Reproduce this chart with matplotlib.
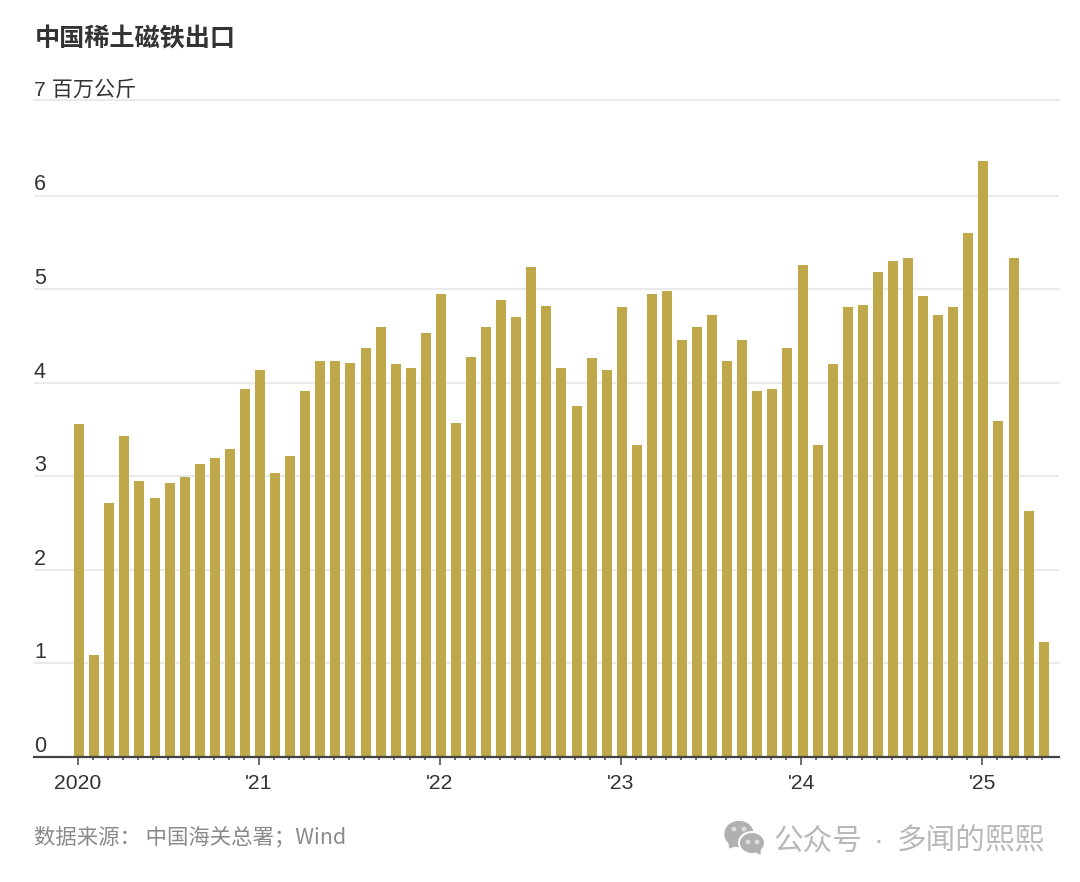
import numpy as np
import matplotlib
matplotlib.use('Agg')
import matplotlib.pyplot as plt
from matplotlib.patches import Ellipse, Polygon
from matplotlib.transforms import blended_transform_factory

##### data (million kg, monthly, Jan 2020 - May 2025)
values_2020 = [3.56, 1.09, 2.72, 3.43, 2.95, 2.77, 2.93, 2.99, 3.13, 3.20, 3.29, 3.93]
values_2021 = [4.14, 3.04, 3.22, 3.91, 4.23, 4.23, 4.21, 4.37, 4.60, 4.20, 4.16, 4.53]
values_2022 = [4.95, 3.57, 4.28, 4.60, 4.89, 4.70, 5.24, 4.82, 4.16, 3.75, 4.27, 4.14]
values_2023 = [4.81, 3.33, 4.95, 4.98, 4.46, 4.60, 4.73, 4.23, 4.46, 3.91, 3.93, 4.37]
values_2024 = [5.26, 3.33, 4.20, 4.81, 4.83, 5.18, 5.30, 5.33, 4.93, 4.73, 4.81, 5.60]
values_2025 = [6.37, 3.59, 5.33, 2.63, 1.23]

year_labels = ['2020', "'21", "'22", "'23", "'24", "'25"]
y_ticks = [0, 1, 2, 3, 4, 5, 6]

title = '中国稀土磁铁出口'
top_label = '7 百万公斤'
source = '数据来源： 中国海关总署；Wind'
watermark_left = '公众号'
watermark_dot = '·'
watermark_right = '多闻的熙熙'

BAR = '#bfa84a'
DARK = '#333333'
GRID = '#e8e8e8'
W, H = 1080, 882
CJK = ['Noto Sans CJK SC', 'Liberation Sans']
LATIN = ['Liberation Sans', 'Noto Sans CJK SC']

values = values_2020 + values_2021 + values_2022 + values_2023 + values_2024 + values_2025
x = np.arange(len(values))

fig = plt.figure(figsize=(W / 100, H / 100), dpi=100)

# axes box in pixels: x 34-1059, y 100-757
left, right, top, bottom = 34, 1059, 100, 757
ax = fig.add_axes([left / W, 1 - bottom / H, (right - left) / W, (bottom - top) / H])
step = 15.07
unit = 93.55
ax.set_xlim((left - 78) / step, (right - 78) / step)
ax.set_ylim(0, (bottom - top) / unit)

# bars sit a touch right of the ticks in the original
ax.bar(x + 0.08, values, width=10 / step, color=BAR, zorder=3)

for v in range(1, 7):
    ax.axhline(v, color=GRID, lw=1.3, zorder=1)

# top spine doubles as the "7" gridline
ax.spines['top'].set_color(GRID)
ax.spines['top'].set_linewidth(1.3)
for s in ['left', 'right']:
    ax.spines[s].set_visible(False)
ax.spines['bottom'].set_color('#444444')
ax.spines['bottom'].set_linewidth(1.6)
ax.spines['bottom'].set_zorder(4)

ax.set_xticks(x[::12])
ax.set_xticklabels(year_labels, family=LATIN, fontsize=15.2, color=DARK)
ax.set_xticks(x, minor=True)
ax.tick_params(axis='x', which='major', length=6, width=1.1, color='#444444', pad=6)
ax.tick_params(axis='x', which='minor', length=2.5, width=1.1, color='#444444')

# y labels sit on top of the gridlines at the left edge
ax.set_yticks([])
label_trans = blended_transform_factory(ax.transAxes, ax.transData)
for v in y_ticks:
    ax.annotate(str(v), xy=(0, v), xycoords=label_trans, xytext=(0, 3.8),
                textcoords='offset points', ha='left', va='baseline',
                family=LATIN, fontsize=15.5, color=DARK)

fig.text(35 / W, 1 - 38.5 / H, title, family=CJK, fontsize=18.1, fontweight='bold',
         color=DARK, ha='left', va='center')
fig.text(34 / W, 1 - 89.5 / H, top_label, family=LATIN, fontsize=15.2, color=DARK,
         ha='left', va='center')
fig.text(34 / W, 1 - 837 / H, source, family=CJK, fontsize=15.4, color='#8a8a8a',
         ha='left', va='center')
fig.text(773 / W, 1 - 841 / H, watermark_left, family=CJK, fontsize=21.3, color='#b8b8b8',
         ha='left', va='center')
fig.text(878 / W, 1 - 841 / H, watermark_dot, family=LATIN, fontsize=21.3, color='#b8b8b8',
         ha='center', va='center')
fig.text(897 / W, 1 - 841 / H, watermark_right, family=CJK, fontsize=21.3, color='#b8b8b8',
         ha='left', va='center')

# wechat style icon, overlay in pixel coordinates
ov = fig.add_axes([0, 0, 1, 1], facecolor='none')
ov.set_xlim(0, W)
ov.set_ylim(H, 0)
ov.axis('off')
GREY = '#b0b0b0'
ov.add_patch(Ellipse((739, 834), 28, 25, color=GREY, zorder=1))
ov.add_patch(Polygon([[729, 842], [730, 848], [737, 844]], color=GREY, zorder=1))
ov.add_patch(Ellipse((752, 843), 26, 22, fc=GREY, ec='white', lw=1.5, zorder=2))
ov.add_patch(Polygon([[755, 851], [760, 854], [760, 848]], color=GREY, zorder=3))
for cx, cy in [(734, 829), (744, 829), (748, 842), (757, 842)]:
    ov.add_patch(Ellipse((cx, cy), 3.5, 3.5, color='#dcdcdc', zorder=4))

fig.savefig('out.png', dpi=100, facecolor='white')
